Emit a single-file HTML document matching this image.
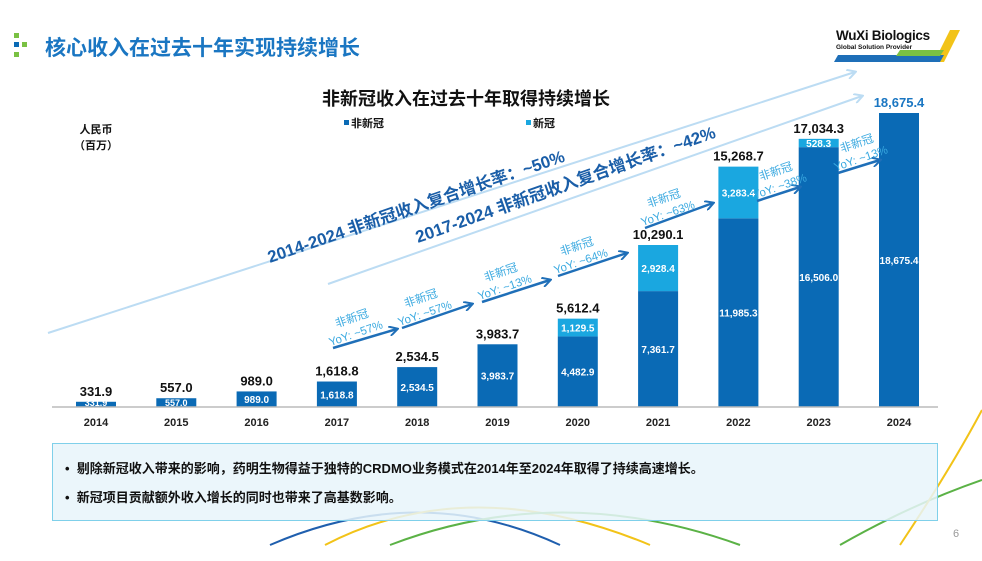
<!DOCTYPE html>
<html><head><meta charset="utf-8"><style>
body{margin:0;width:982px;height:561px;overflow:hidden;background:#fff;font-family:"Liberation Sans","Noto Sans CJK SC",sans-serif;position:relative}
.t{position:absolute;white-space:nowrap}
</style></head><body>
<div style="position:absolute;left:14px;top:33px;width:5px;height:5px;background:#7ac143"></div>
<div style="position:absolute;left:14px;top:42px;width:5px;height:5px;background:#0a6ab5"></div>
<div style="position:absolute;left:22px;top:42px;width:5px;height:5px;background:#7ac143"></div>
<div style="position:absolute;left:14px;top:52px;width:5px;height:5px;background:#7ac143"></div>
<div class="t" style="left:45px;top:32px;font-size:21px;font-weight:bold;color:#1a76c2">核心收入在过去十年实现持续增长</div>
<div class="t" style="left:836px;top:28px;font-size:13.5px;font-weight:bold;color:#111;letter-spacing:-0.3px">WuXi Biologics</div>
<div class="t" style="left:836px;top:44px;font-size:6.5px;font-weight:bold;color:#111">Global Solution Provider</div>
<svg style="position:absolute;left:0;top:0" width="982" height="561">
<polygon points="950,30 960,30 944,62 934,62" fill="#f2c318"/>
<polygon points="838,55 944,55 940,62 834,62" fill="#1e6fb8"/>
<polygon points="900,50 944,50 940,56 896,56" fill="#7ac143"/>
<text x="466" y="105" font-size="18" font-weight="bold" text-anchor="middle" fill="#111">非新冠收入在过去十年取得持续增长</text>
<text x="96" y="133" font-size="11" font-weight="bold" text-anchor="middle" fill="#111">人民币</text>
<text x="96" y="149" font-size="11" font-weight="bold" text-anchor="middle" fill="#111">（百万）</text>
<rect x="344" y="120" width="5" height="5" fill="#0a6ab5"/>
<text x="351" y="127" font-size="11" font-weight="bold" fill="#111">非新冠</text>
<rect x="526" y="120" width="5" height="5" fill="#1aa7e0"/>
<text x="533" y="127" font-size="11" font-weight="bold" fill="#111">新冠</text>
<defs>
<marker id="la" markerWidth="10" markerHeight="10" refX="8" refY="5" orient="auto" markerUnits="userSpaceOnUse"><path d="M0,0 L9,5 L0,10" fill="none" stroke="#bcdcf3" stroke-width="2"/></marker>
<marker id="da" markerWidth="10" markerHeight="10" refX="8" refY="5" orient="auto" markerUnits="userSpaceOnUse"><path d="M0,0 L9,5 L0,10" fill="none" stroke="#1f6fb8" stroke-width="2"/></marker>
</defs>
<line x1="48" y1="333" x2="855" y2="72" stroke="#bcdcf3" stroke-width="2" marker-end="url(#la)"/>
<line x1="328" y1="284" x2="862" y2="96" stroke="#bcdcf3" stroke-width="2" marker-end="url(#la)"/>
<text transform="translate(270,263) rotate(-19)" font-size="16.8" font-weight="bold" fill="#1a5ea8">2014-2024  非新冠收入复合增长率：~50%</text>
<text transform="translate(418,243) rotate(-19.5)" font-size="17" font-weight="bold" fill="#1a5ea8">2017-2024  非新冠收入复合增长率：~42%</text>
<g id="bars"></g>
<line x1="52" y1="407" x2="938" y2="407" stroke="#bbb" stroke-width="1.5"/>
<g id="yoy"></g>
<path d="M270,545 Q420,480 560,545" fill="none" stroke="#1f5fae" stroke-width="2"/>
<path d="M325,545 Q470,470 650,545" fill="none" stroke="#f2c318" stroke-width="2"/>
<path d="M390,545 Q560,480 740,545" fill="none" stroke="#5bb246" stroke-width="2"/>
<path d="M840,545 Q910,505 982,480" fill="none" stroke="#5bb246" stroke-width="2"/>
<path d="M900,545 Q950,470 982,410" fill="none" stroke="#f2c318" stroke-width="2"/>
</svg>
<div style="position:absolute;left:52px;top:443px;width:884px;height:76px;border:1px solid #7fd0ea;background:rgba(232,244,250,0.85)">
<div class="t" style="left:12px;top:14px;font-size:13px;font-weight:bold;color:#111">•&nbsp;&nbsp;剔除新冠收入带来的影响，药明生物得益于独特的CRDMO业务模式在2014年至2024年取得了持续高速增长。</div>
<div class="t" style="left:12px;top:43px;font-size:13px;font-weight:bold;color:#111">•&nbsp;&nbsp;新冠项目贡献额外收入增长的同时也带来了高基数影响。</div>
</div>
<div class="t" style="left:953px;top:528px;font-size:11px;color:#999">6</div>
<script>
const years=["2014","2015","2016","2017","2018","2019","2020","2021","2022","2023","2024"];
const nonCovid=[331.9,557.0,989.0,1618.8,2534.5,3983.7,4482.9,7361.7,11985.3,16506.0,18675.4];
const covid=[0,0,0,0,0,0,1129.5,2928.4,3283.4,528.3,0];
const totalLabels=["331.9","557.0","989.0","1,618.8","2,534.5","3,983.7","5,612.4","10,290.1","15,268.7","17,034.3","18,675.4"];
const yoyLabels=["YoY: ~57%","YoY: ~57%","YoY: ~13%","YoY: ~64%","YoY: ~63%","YoY: ~38%","YoY: ~13%"];
const NS="http://www.w3.org/2000/svg";
const base=407,scale=294/18675.4,x0=96,step=80.3,bw=40;
const yv=v=>base-v*scale;
const xc=i=>x0+i*step;
const fmt=v=>v.toLocaleString('en-US',{minimumFractionDigits:1,maximumFractionDigits:1});
const g=document.getElementById('bars');
function mk(tag,attrs,parent){const e=document.createElementNS(NS,tag);for(const k in attrs)e.setAttribute(k,attrs[k]);parent.appendChild(e);return e;}
years.forEach((yr,i)=>{
  const cx=xc(i),h1=nonCovid[i]*scale,h2=covid[i]*scale;
  const r1=mk('rect',{x:cx-bw/2,y:base-h1,width:bw,height:h1,fill:'#0a6ab5'},g);
  
  
  const tot=nonCovid[i]+covid[i];
  if(covid[i]>0){
    const r2=mk('rect',{x:cx-bw/2,y:yv(tot),width:bw,height:h2,fill:'#1aa7e0'},g);
    
    
    const t2=mk('text',{x:cx,y:yv(tot)+h2/2+4,'font-size':10,'font-weight':'bold','text-anchor':'middle',fill:'#fff'},g);
    t2.textContent=fmt(covid[i]);
    
    
  }
  const ly=h1<14?base-1:base-h1/2+4;
  const t1=mk('text',{x:cx,y:ly,'font-size':h1<14?9:10,'text-anchor':'middle',fill:'#fff','font-weight':'bold'},g);
  t1.textContent=fmt(nonCovid[i]);
  
  
  const tt=mk('text',{x:cx,y:yv(tot)-6,'font-size':13,'font-weight':'bold','text-anchor':'middle',fill:i==10?'#1a76c2':'#111'},g);
  tt.textContent=totalLabels[i];
  
  
  const xl=mk('text',{x:cx,y:426,'font-size':11,'font-weight':'bold','text-anchor':'middle',fill:'#222'},g);
  xl.textContent=yr;
  
  
});
// annotation arrow layout (decorative positions, not data)
const arrowStart=[[333,348],[402,328],[482,302],[558,276],[645,228],[757,201],[838,173]];
const arrowEnd=[[397,329],[472,304],[550,280],[627,253],[713,203],[800,187],[880,160]];
const ya=document.getElementById('yoy');
yoyLabels.forEach((lab,k)=>{
  const yr=years[k+4];
  const [x1,y1]=arrowStart[k],[x2,y2]=arrowEnd[k];
  const ln=mk('line',{x1:x1,y1:y1,x2:x2,y2:y2,stroke:'#1f6fb8','stroke-width':2.5,'marker-end':'url(#da)'},ya);
  
  
  const t=mk('text',{transform:`translate(${x1+20},${y1-26}) rotate(-19)`,'font-size':11.5,'text-anchor':'middle',fill:'#3aa9e0'},ya);
  t.textContent='非新冠';
  
  
  const t2=mk('text',{transform:`translate(${x1+24},${y1-11}) rotate(-19)`,'font-size':11.5,'text-anchor':'middle',fill:'#3aa9e0'},ya);
  t2.textContent=lab;
  
  
});
</script>
</body></html>
